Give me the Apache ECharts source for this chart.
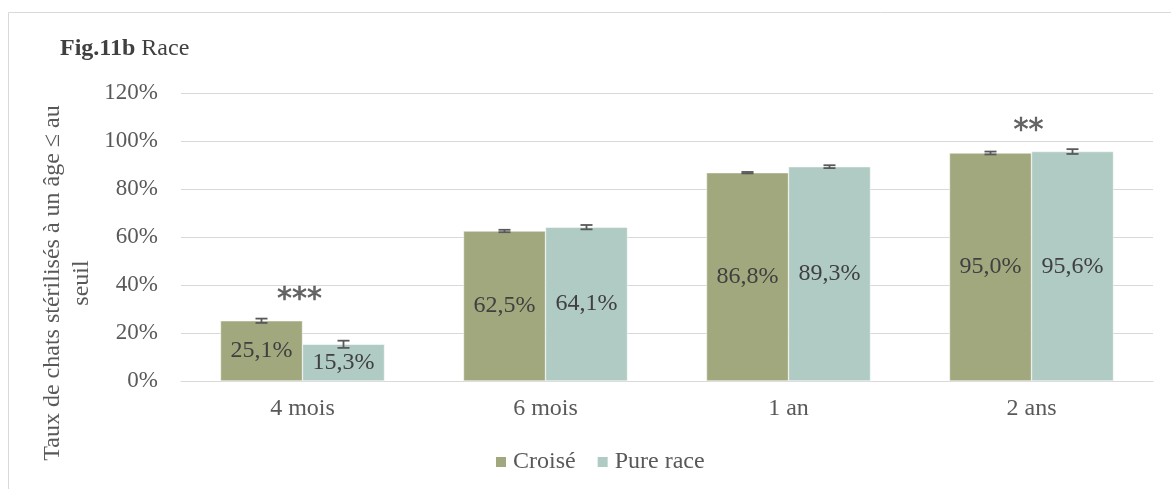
<!DOCTYPE html>
<html><head><meta charset="utf-8">
<script src="https://cdn.jsdelivr.net/npm/echarts@6/dist/echarts.min.js"></script>
<style>html,body{margin:0;padding:0;background:#fff}#c{width:1171px;height:489px}</style>
</head><body><div id="c"></div>
<script>
const categories = ['4 mois', '6 mois', '1 an', '2 ans'];
const croise = [25.1, 62.5, 86.8, 95.0];
const pureRace = [15.3, 64.1, 89.3, 95.6];
const croiseErr = [0.9, 0.5, 0.3, 0.6];
const pureErr = [1.5, 0.9, 0.6, 1.0];
const significance = ['***', '', '', '**'];
const yTicks = [0, 20, 40, 60, 80, 100, 120];
const yTitle = 'Taux de chats stérilisés à un âge ≤ au\nseuil';

const font = '"Liberation Serif","Times New Roman",serif';
const chart = echarts.init(document.getElementById('c'));

function errSeries(vals, errs, idx) {
  return {
    type: 'custom', name: 'err' + idx, z: 10,
    data: vals.map((v, i) => [i, v - errs[i], v + errs[i]]),
    renderItem: function (params, api) {
      const c = api.value(0);
      const lo = api.coord([c, api.value(1)]);
      const hi = api.coord([c, api.value(2)]);
      const bw = api.size([1, 0])[0];
      const barW = bw * (1 - 0.325) / 2;
      const x = lo[0] + (idx === 0 ? -barW / 2 : barW / 2);
      const cap = 6;
      const st = { stroke: '#595959', lineWidth: 1.8 };
      return { type: 'group', children: [
        { type: 'line', shape: { x1: x, y1: lo[1], x2: x, y2: hi[1] }, style: st },
        { type: 'line', shape: { x1: x - cap, y1: lo[1], x2: x + cap, y2: lo[1] }, style: st },
        { type: 'line', shape: { x1: x - cap, y1: hi[1], x2: x + cap, y2: hi[1] }, style: st }
      ]};
    }
  };
}

const starData = categories.map((c, i) => [i, Math.max(croise[i] + croiseErr[i], pureRace[i] + pureErr[i]), significance[i]]);

chart.setOption({
  animation: false,
  backgroundColor: '#fff',
  textStyle: { fontFamily: font },
  title: {
    text: '{b|Fig.11b} {r|Race}', left: 55, top: 32,
    textStyle: { fontFamily: font, fontSize: 24, fontWeight: 'normal', color: '#404040',
      rich: {
        b: { fontFamily: font, fontSize: 24, fontWeight: 'bold', color: '#404040' },
        r: { fontFamily: font, fontSize: 24, color: '#404040' }
      } }
  },
  graphic: [
    { type: 'polyline', shape: { points: [[8.5, 489], [8.5, 12.5], [1171, 12.5]] }, style: { stroke: '#D9D9D9', lineWidth: 1, fill: null } },
    { type: 'text', x: 67, y: 283, rotation: Math.PI / 2,
      style: { text: yTitle, font: '24px ' + font, fill: '#595959', align: 'center', verticalAlign: 'middle', lineHeight: 29 } }
  ],
  legend: {
    bottom: 10, left: 489, itemWidth: 12, itemHeight: 12, itemGap: 20,
    icon: 'rect',
    data: ['Croisé', 'Pure race'],
    textStyle: { fontFamily: font, fontSize: 24, color: '#595959', padding: [0, 0, 0, 1] }
  },
  grid: { left: 181, right: 18, top: 93, bottom: 108, containLabel: false },
  xAxis: {
    type: 'category', data: categories,
    axisLine: { lineStyle: { color: '#D9D9D9' } }, axisTick: { show: false },
    axisLabel: { fontFamily: font, fontSize: 24, color: '#595959', margin: 16 }
  },
  yAxis: {
    type: 'value', min: 0, max: 120, interval: 20,
    axisLabel: { fontFamily: font, fontSize: 23, color: '#595959', margin: 23,
      formatter: v => yTicks.includes(v) ? v + '%' : '' },
    splitLine: { lineStyle: { color: '#D9D9D9', width: 1 } },
    axisLine: { show: false }, axisTick: { show: false }
  },
  series: [
    { name: 'Croisé', type: 'bar', data: croise, barGap: '0%', barCategoryGap: '32.5%',
      itemStyle: { color: '#A2A87E', borderColor: '#fff', borderWidth: 0.5 },
      label: { show: true, position: 'inside', fontFamily: font, fontSize: 24, color: '#404040',
        formatter: p => p.value.toFixed(1).replace('.', ',') + '%' } },
    { name: 'Pure race', type: 'bar', data: pureRace,
      itemStyle: { color: '#B0CBC4', borderColor: '#fff', borderWidth: 0.5 },
      label: { show: true, position: 'inside', fontFamily: font, fontSize: 24, color: '#404040',
        formatter: p => p.value.toFixed(1).replace('.', ',') + '%' } },
    errSeries(croise, croiseErr, 0),
    errSeries(pureRace, pureErr, 1),
    { type: 'scatter', name: 'stars', symbolSize: 0, data: starData, z: 11,
      label: { show: true, position: 'top', distance: 3, offset: [-3, 0], fontFamily: 'DejaVu Sans', fontSize: 30, color: '#404040',
        textBorderColor: '#404040', textBorderWidth: 0.6,
        formatter: p => p.value[2] } }
  ]
});
</script></body></html>
